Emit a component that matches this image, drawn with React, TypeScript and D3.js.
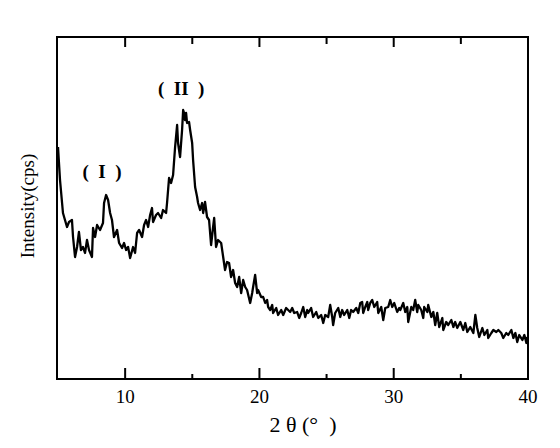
import React from "react";
import * as d3 from "d3";

const twoTheta = [5.00,5.15,5.37,5.52,5.67,5.82,6.04,6.12,6.27,6.42,6.56,6.71,6.86,7.01,7.16,7.31,7.53,7.61,7.76,7.91,8.13,8.35,8.43,8.58,8.73,8.88,9.02,9.17,9.40,9.55,9.77,9.92,10.07,10.22,10.37,10.59,10.74,10.89,11.04,11.26,11.41,11.56,11.71,11.86,12.00,12.08,12.30,12.45,12.68,12.82,13.05,13.12,13.27,13.42,13.57,13.72,13.87,13.94,14.09,14.24,14.32,14.39,14.46,14.54,14.61,14.76,14.84,14.99,15.06,15.21,15.36,15.43,15.58,15.73,15.81,15.95,16.10,16.25,16.40,16.55,16.63,16.77,16.92,17.15,17.30,17.44,17.59,17.74,17.89,18.04,18.19,18.34,18.49,18.64,18.79,18.94,19.08,19.31,19.46,19.53,19.68,19.83,19.90,20.13,20.28,20.43,20.57,20.65,20.80,20.95,21.02,21.25,21.39,21.62,21.77,21.99,22.14,22.29,22.44,22.59,22.81,22.96,23.11,23.26,23.41,23.56,23.63,23.85,24.00,24.23,24.38,24.60,24.75,24.90,25.12,25.27,25.42,25.49,25.64,25.87,26.02,26.16,26.31,26.54,26.69,26.83,26.98,27.21,27.36,27.51,27.65,27.73,27.88,28.03,28.10,28.25,28.40,28.55,28.77,28.85,29.07,29.22,29.37,29.59,29.74,29.89,30.04,30.26,30.41,30.49,30.71,30.86,31.01,31.08,31.31,31.45,31.60,31.75,31.83,32.05,32.20,32.27,32.50,32.57,32.80,32.95,33.09,33.24,33.39,33.62,33.69,33.91,34.06,34.29,34.44,34.58,34.73,34.96,35.18,35.33,35.48,35.70,35.93,36.08,36.22,36.37,36.60,36.75,36.97,37.04,37.27,37.42,37.64,37.79,38.01,38.16,38.38,38.53,38.76,38.91,39.06,39.20,39.35,39.58,39.73,39.88,39.95];

const intensity = [2320,1990,1660,1590,1520,1570,1590,1420,1220,1320,1470,1290,1320,1260,1390,1290,1220,1510,1420,1540,1490,1560,1760,1840,1790,1660,1590,1420,1490,1360,1310,1360,1290,1320,1210,1320,1260,1460,1490,1420,1540,1590,1520,1640,1710,1570,1640,1660,1610,1690,1660,1760,2010,1960,2040,2320,2540,2360,2220,2490,2690,2660,2590,2660,2560,2570,2490,2360,2190,1920,1820,1760,1690,1760,1660,1770,1620,1590,1340,1520,1610,1320,1390,1360,1220,1090,1170,1160,1020,1090,960,920,1020,860,990,920,890,760,860,920,1040,860,890,820,820,760,790,720,690,740,660,710,640,690,640,710,690,670,710,660,670,610,660,720,620,690,660,710,620,670,610,640,560,640,620,740,620,540,660,710,620,690,640,690,610,690,670,710,660,760,770,660,720,770,690,760,790,720,770,660,720,590,710,720,790,720,760,670,710,690,760,670,720,570,720,690,790,670,740,690,610,720,670,740,620,670,540,660,520,610,490,570,540,590,520,570,510,570,490,560,470,520,460,640,510,420,510,440,490,410,460,490,470,490,460,410,460,440,490,410,460,370,440,390,440,360,420];

const majorTicks = [10, 20, 30, 40];
const minorTicks = [15, 25, 35];
const peakLabels = ["(  I  )", "(  II  )"];
const peakPositions = [8.58, 14.32];
const peakHeights = [1840, 2690];

const W = 560, H = 448;
const L = 57, R = 528, T = 37, B = 379;

export default function App() {
  const x = d3.scaleLinear().domain([5, 40]).range([58, 528]);
  const y = d3.scaleLinear().domain([0, 3420]).range([B, T]);
  const pts = twoTheta.map((t, i) => [t, intensity[i]] as [number, number]);
  const line = d3.line<[number, number]>().x(d => x(d[0])).y(d => y(d[1]));
  const serif = "'Liberation Serif', 'Times New Roman', serif";
  return (
    <svg width={W} height={H} style={{ position: "absolute", left: 0, top: 0, background: "#fff" }}>
      <rect x={0} y={0} width={W} height={H} fill="#fff" />
      <path d={line(pts) || ""} fill="none" stroke="#000" strokeWidth={2.3} strokeLinejoin="round" />
      <rect x={L} y={T} width={R - L} height={B - T} fill="none" stroke="#000" strokeWidth={2} />
      {majorTicks.filter(t => t < 40).map(t => (
        <g key={"M" + t}>
          <line x1={x(t)} x2={x(t)} y1={B} y2={B - 11} stroke="#000" strokeWidth={2} />
          <line x1={x(t)} x2={x(t)} y1={T} y2={T + 10} stroke="#000" strokeWidth={2} />
        </g>
      ))}
      {minorTicks.map(t => (
        <g key={"m" + t}>
          <line x1={x(t)} x2={x(t)} y1={B} y2={B - 5} stroke="#000" strokeWidth={2} />
          <line x1={x(t)} x2={x(t)} y1={T} y2={T + 7} stroke="#000" strokeWidth={2} />
        </g>
      ))}
      {majorTicks.map(t => (
        <text key={"l" + t} x={x(t)} y={403} textAnchor="middle" fontFamily={serif} fontSize={19} fill="#000">{t}</text>
      ))}
      <text x={303} y={432} textAnchor="middle" fontFamily={serif} fontSize={22} fill="#000" style={{ whiteSpace: "pre" }}>2 θ (°  )</text>
      <text transform="translate(34,206) rotate(-90)" textAnchor="middle" fontFamily={serif} fontSize={19} fill="#000">Intensity(cps)</text>
      {peakLabels.map((s, i) => (
        <text key={s} x={x(peakPositions[i]) - 4 + i * 2} y={y(peakHeights[i]) - (i === 0 ? 17 : 15)} textAnchor="middle" fontFamily={serif} fontWeight="bold" fontSize={19} fill="#000" style={{ whiteSpace: "pre" }}>{s}</text>
      ))}
    </svg>
  );
}
